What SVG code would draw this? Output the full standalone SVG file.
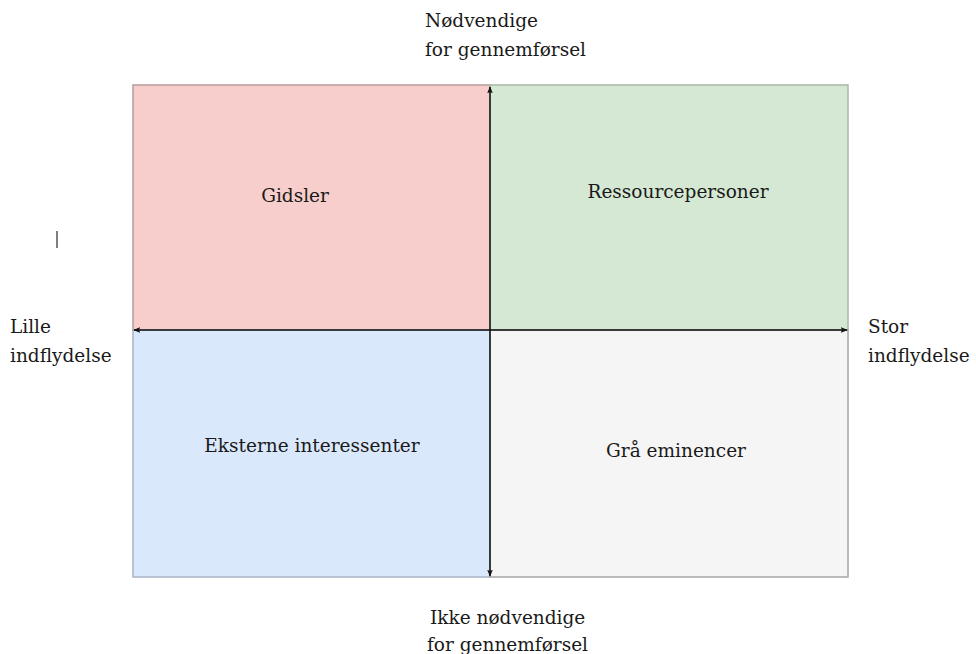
<svg xmlns="http://www.w3.org/2000/svg" width="976" height="654" viewBox="0 0 976 654">
<style>
text{font-family:"DejaVu Serif","Liberation Serif",serif;font-size:18.5px;fill:#1a1a1a}
.q{stroke-width:1.5}
.ax{stroke:#111;stroke-width:1.5;fill:none}
</style>
<defs>
<marker id="ah" viewBox="0 0 10 10" refX="9" refY="5" markerWidth="7" markerHeight="7" orient="auto-start-reverse" markerUnits="userSpaceOnUse">
<path d="M0,1 L10,5 L0,9 L2,5 z" fill="#111"/>
</marker>
</defs>
<rect width="976" height="654" fill="#fff"/>
<g id="gidsler">
<rect class="q" x="133" y="85" width="357" height="245" fill="#f8cecc" stroke="#b89a9a"/>
<text x="295" y="202" text-anchor="middle">Gidsler</text>
</g>
<g id="ressourcepersoner">
<rect class="q" x="490" y="85" width="358" height="245" fill="#d5e8d4" stroke="#a8b8a6"/>
<text x="678" y="198" text-anchor="middle">Ressourcepersoner</text>
</g>
<g id="eksterne">
<rect class="q" x="133" y="330" width="357" height="247" fill="#dae8fc" stroke="#a8b4c6"/>
<text x="312" y="452" text-anchor="middle">Eksterne interessenter</text>
</g>
<g id="graa">
<rect class="q" x="490" y="330" width="358" height="247" fill="#f5f5f5" stroke="#a6a6a6"/>
<text x="676" y="457" text-anchor="middle">Grå eminencer</text>
</g>
<g id="connectors">
<line class="ax" x1="490" y1="87" x2="490" y2="576" marker-start="url(#ah)" marker-end="url(#ah)"/>
<line class="ax" x1="134" y1="330" x2="847" y2="330" marker-start="url(#ah)" marker-end="url(#ah)"/>
</g>
<line x1="57" y1="231" x2="57" y2="248" stroke="#555" stroke-width="1.5"/>
<g id="labels">
<text x="425" y="27">Nødvendige</text>
<text x="425" y="56">for gennemførsel</text>
<text x="10" y="333">Lille</text>
<text x="10" y="362">indflydelse</text>
<text x="868" y="333">Stor</text>
<text x="868" y="362">indflydelse</text>
<text x="430" y="624">Ikke nødvendige</text>
<text x="427" y="651">for gennemførsel</text>
</g>
</svg>
